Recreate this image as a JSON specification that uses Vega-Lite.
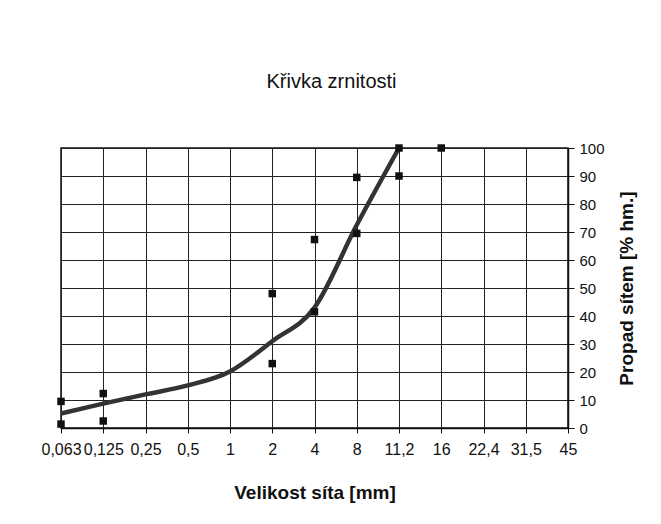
{
  "$schema": "https://vega.github.io/schema/vega-lite/v6.json",
  "autosize": "none",
  "width": 507,
  "height": 280,
  "padding": {"left": 61, "top": 148, "right": 93, "bottom": 96},
  "background": "white",
  "config": {
    "font": "Liberation Sans",
    "view": {"stroke": "#111", "strokeWidth": 1.5}
  },
  "title": {
    "text": "Křivka zrnitosti",
    "fontSize": 20,
    "fontWeight": "normal",
    "color": "#111",
    "offset": 47,
    "dx": 17
  },
  "data": {
    "values": [
      {"sito": "0,063", "typ": "bod", "propad": 9.5},
      {"sito": "0,063", "typ": "bod", "propad": 1.4},
      {"sito": "0,125", "typ": "bod", "propad": 12.3},
      {"sito": "0,125", "typ": "bod", "propad": 2.5},
      {"sito": "2", "typ": "bod", "propad": 48},
      {"sito": "2", "typ": "bod", "propad": 23},
      {"sito": "4", "typ": "bod", "propad": 67.3},
      {"sito": "4", "typ": "bod", "propad": 41.5},
      {"sito": "8", "typ": "bod", "propad": 89.5},
      {"sito": "8", "typ": "bod", "propad": 69.5},
      {"sito": "11,2", "typ": "bod", "propad": 100},
      {"sito": "11,2", "typ": "bod", "propad": 90},
      {"sito": "16", "typ": "bod", "propad": 100},
      {"sito": "0,063", "typ": "krivka", "propad": 5.2},
      {"sito": "0,125", "typ": "krivka", "propad": 8.7},
      {"sito": "0,25", "typ": "krivka", "propad": 12},
      {"sito": "0,5", "typ": "krivka", "propad": 15.2},
      {"sito": "1", "typ": "krivka", "propad": 20.2},
      {"sito": "2", "typ": "krivka", "propad": 31},
      {"sito": "4", "typ": "krivka", "propad": 43},
      {"sito": "8", "typ": "krivka", "propad": 72.5},
      {"sito": "11,2", "typ": "krivka", "propad": 100}
    ]
  },
  "encoding": {
    "x": {
      "field": "sito",
      "type": "ordinal",
      "scale": {
        "type": "point",
        "padding": 0,
        "domain": ["0,063", "0,125", "0,25", "0,5", "1", "2", "4", "8", "11,2", "16", "22,4", "31,5", "45"]
      },
      "axis": {
        "title": "Velikost síta [mm]",
        "titleFont": "Liberation Sans",
        "titleFontSize": 19,
        "titleFontWeight": "bold",
        "titleColor": "#111",
        "titlePadding": 26,
        "labelAngle": 0,
        "labelFontSize": 16,
        "labelOverlap": false,
        "labelColor": "#111",
        "labelPadding": 8,
        "tickColor": "#111",
        "tickSize": 5,
        "domainColor": "#111",
        "domainWidth": 1.5,
        "grid": true,
        "gridColor": "#222",
        "gridWidth": 1
      }
    },
    "y": {
      "field": "propad",
      "type": "quantitative",
      "scale": {"domain": [0, 100], "nice": false},
      "axis": {
        "orient": "right",
        "values": [0, 10, 20, 30, 40, 50, 60, 70, 80, 90, 100],
        "title": "Propad sítem [% hm.]",
        "titleFontSize": 19,
        "titleFontWeight": "bold",
        "titleColor": "#111",
        "titleAngle": 270,
        "titlePadding": 32,
        "labelFontSize": 15,
        "labelColor": "#111",
        "labelPadding": 5,
        "tickColor": "#111",
        "tickSize": 6,
        "domainColor": "#111",
        "domainWidth": 1.5,
        "grid": true,
        "gridColor": "#222",
        "gridWidth": 1
      }
    }
  },
  "layer": [
    {
      "transform": [{"filter": "datum.typ === 'krivka'"}],
      "mark": {"type": "line", "interpolate": "cardinal", "color": "#333", "strokeWidth": 4.5},
      "encoding": {}
    },
    {
      "transform": [{"filter": "datum.typ === 'bod'"}],
      "mark": {"type": "point", "shape": "square", "filled": true, "color": "#111", "size": 56, "opacity": 1},
      "encoding": {}
    }
  ]
}
